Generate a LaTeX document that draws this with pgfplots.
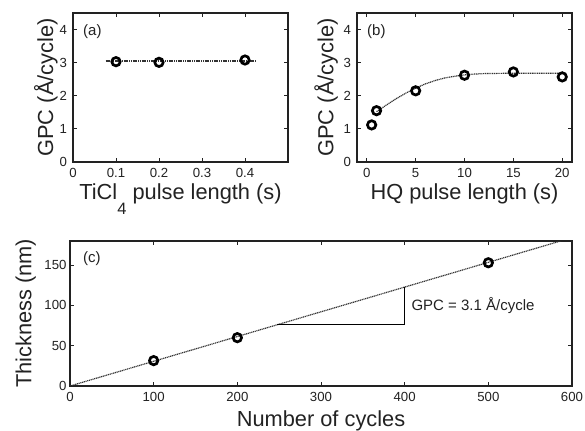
\documentclass[border=0pt]{standalone}
\usepackage{fontspec}
\setmainfont{Liberation Sans}
\usepackage{pgfplots}
\pgfplotsset{compat=1.18}

\definecolor{axgray}{HTML}{222222}

\pgfplotsset{
  panel/.style={
    scale only axis,
    axis line style={line width=1.1bp, axgray},
    tick style={line width=0.8bp, axgray},
    major tick length=4bp,
    tick align=inside,
    /pgf/number format/assume math mode=true,
    ticklabel style={font=\fontsize{13.2bp}{16bp}\selectfont, text=axgray},
    label style={font=\fontsize{21.8bp}{24bp}\selectfont, text=axgray},
    x tick label style={yshift=-2.5bp},
  },
  fitline/.style={dash pattern=on 1.1bp off 0.7bp, line width=1.2bp, black!80},
  pts/.style={only marks, mark=o, mark size=4.2bp, mark options={line width=2.7bp, black}},
}
\tikzset{
  tag/.style={font=\fontsize{15bp}{18bp}\selectfont, text=axgray, anchor=west, inner sep=0pt, xshift=10bp, yshift=-19bp},
}

\begin{document}
\begin{tikzpicture}

% (a) growth per cycle against TiCl4 pulse length
\begin{axis}[panel,
  at={(73bp,269bp)}, anchor=south west,
  width=215bp, height=149bp,
  xmin=0, xmax=0.5, ymin=0, ymax=4.5,
  xtick={0,0.1,0.2,0.3,0.4}, ytick={0,1,2,3,4},
  y tick label style={xshift=-2.5bp},
  xticklabel style={/pgf/number format/fixed, /pgf/number format/precision=1},
  xlabel={TiCl\raisebox{-15bp}{\fontsize{16.5bp}{16.5bp}\selectfont 4} pulse length (s)},
  ylabel={GPC (Å/cycle)},
  xlabel style={at={(axis description cs:0.5,-0.25)}, anchor=base},
  ylabel style={at={(axis description cs:-0.093,0.5)}, anchor=base},
]
\addplot[fitline] coordinates {(0.076,3.05) (0.427,3.05)};
\addplot[pts] coordinates {(0.1,3.03) (0.2,3.01) (0.4,3.08)};
\node[tag] at (rel axis cs:0,1) {(a)};
\end{axis}

% (b) growth per cycle against HQ pulse length
\begin{axis}[panel,
  at={(357bp,269bp)}, anchor=south west,
  width=215bp, height=149bp,
  xmin=-1, xmax=21, ymin=0, ymax=4.5,
  xtick={0,5,10,15,20}, ytick={0,1,2,3,4},
  y tick label style={xshift=-2.5bp},
  xlabel={HQ pulse length (s)},
  ylabel={GPC (Å/cycle)},
  xlabel style={at={(axis description cs:0.5,-0.255)}, anchor=base},
  ylabel style={at={(axis description cs:-0.11,0.5)}, anchor=base},
]
\addplot[fitline] coordinates {
  (1,1.52) (2,1.72) (3,1.91) (4,2.08) (5,2.23) (6,2.36) (7,2.46)
  (8,2.54) (9,2.59) (10,2.63) (11,2.655) (12,2.67) (13,2.675)
  (15,2.68) (17.5,2.68) (20,2.68)};
\addplot[pts] coordinates {(0.5,1.12) (1,1.55) (5,2.15) (10,2.62) (15,2.72) (20,2.57)};
\node[tag] at (rel axis cs:0,1) {(b)};
\end{axis}

% (c) film thickness against number of cycles
\begin{axis}[panel,
  at={(70bp,45bp)}, anchor=south west,
  width=502bp, height=145bp,
  xmin=0, xmax=600, ymin=0, ymax=180,
  xtick={0,100,...,600}, ytick={0,50,100,150},
  x tick label style={yshift=-0.5bp},
  xlabel={Number of cycles},
  ylabel={Thickness (nm)},
  xlabel style={at={(axis description cs:0.5,-0.282)}, anchor=base},
  ylabel style={at={(axis description cs:-0.0767,0.5)}, anchor=base},
]
\addplot[fitline] coordinates {(0,0) (600,184.2)};
\addplot[black, line width=0.8bp] coordinates {(247,76) (400,76) (400,122.8)};
\addplot[pts] coordinates {(100,31.5) (200,60) (500,153)};
\node[font=\fontsize{15bp}{18bp}\selectfont, text=axgray, anchor=west, inner sep=0pt]
  at (axis cs:408,100.5) {GPC = 3.1 Å/cycle};
\node[tag, xshift=3bp, yshift=1bp] at (rel axis cs:0,1) {(c)};
\end{axis}

\pgfresetboundingbox
\path[use as bounding box] (0,0) rectangle (585bp,431bp);
\end{tikzpicture}
\end{document}
